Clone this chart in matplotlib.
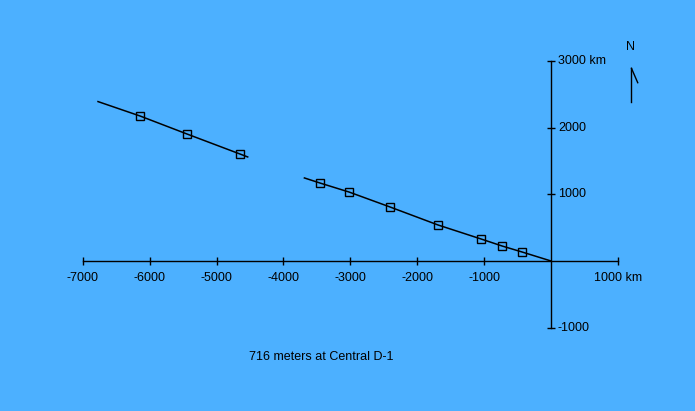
import matplotlib
matplotlib.use("Agg")
import matplotlib.pyplot as plt

# track (km east, km north)
seg1_x = [-6771, -6143, -5441, -4649, -4534]
seg1_y = [2390, 2174, 1904, 1604, 1560]
seg2_x = [-3686, -3453, -3019, -2407, -1689, -1046, -732, -433, 0]
seg2_y = [1245, 1169, 1034, 810, 540, 330, 225, 135, 0]

mark_x = [-6143, -5441, -4649, -3453, -3019, -2407, -1689, -1046, -732, -433]
mark_y = [2174, 1904, 1604, 1169, 1034, 810, 540, 330, 225, 135]

xticks = [-7000, -6000, -5000, -4000, -3000, -2000, -1000, 1000]
xlabels = ["-7000", "-6000", "-5000", "-4000", "-3000", "-2000", "-1000", "1000 km"]
yticks = [3000, 2000, 1000, -1000]
ylabels = ["3000 km", "2000", "1000", "-1000"]

caption = "716 meters at Central D-1"

bg = "#4cb0ff"
plt.rcParams["font.family"] = ["Liberation Sans", "DejaVu Sans"]

fig = plt.figure(figsize=(6.95, 4.11), dpi=100, facecolor=bg)
ax = fig.add_axes([0, 0, 1, 1])
ax.set_facecolor(bg)
ax.set_xlim(-8236, 2152)
ax.set_ylim(-2249, 3913)
ax.axis("off")

# axes crossing at origin
ax.plot([min(xticks), max(xticks)], [0, 0], color="black", lw=1)
ax.plot([0, 0], [min(yticks), max(yticks)], color="black", lw=1)
ax.plot(xticks, [0] * len(xticks), ls="none", marker="|", ms=6, mew=1, color="black")
ax.plot([0] * len(yticks), yticks, ls="none", marker="_", ms=6, mew=1, color="black")

for v, s in zip(xticks, xlabels):
    ax.annotate(s, (v, 0), xytext=(0, -12), textcoords="offset points",
                ha="center", va="center", fontsize=9)
for v, s in zip(yticks, ylabels):
    ax.annotate(s, (0, v), xytext=(5, 0), textcoords="offset points",
                ha="left", va="center", fontsize=9)

# track
ax.plot(seg1_x, seg1_y, color="black", lw=1.1)
ax.plot(seg2_x, seg2_y, color="black", lw=1.1)
ax.plot(mark_x, mark_y, ls="none", marker="s", ms=5.5, mfc="none", mec="black", mew=1)

# north arrow
ax.plot([0.9086, 0.9086], [0.751, 0.8338], color="black", lw=1, transform=ax.transAxes)
ax.plot([0.9086, 0.9176], [0.8338, 0.7988], color="black", lw=1, transform=ax.transAxes)
ax.text(0.9076, 0.8849, "N", transform=ax.transAxes, ha="center", va="center", fontsize=9)

fig.text(321 / 695, 1 - 357 / 411, caption, ha="center", va="center", fontsize=9)

fig.savefig("out.png", dpi=100, facecolor=bg)
